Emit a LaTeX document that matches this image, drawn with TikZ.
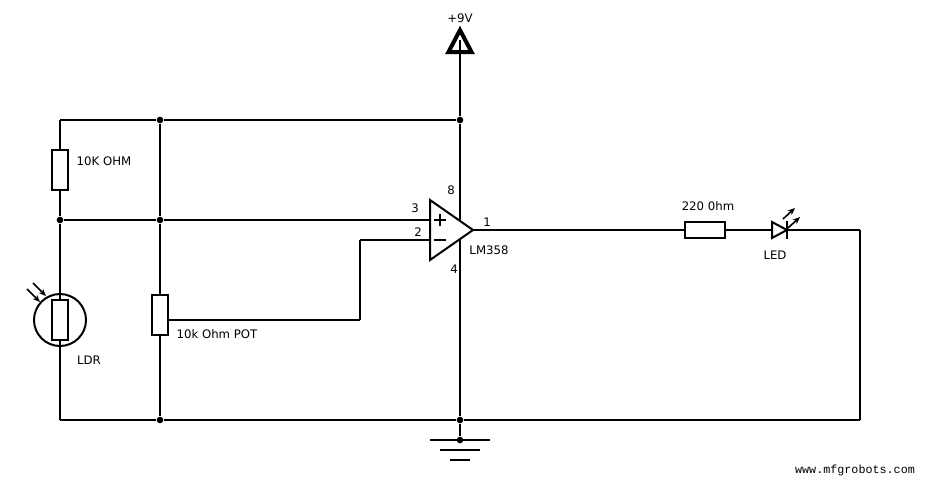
\documentclass[tikz,border=0pt]{standalone}
\usepackage{fontspec}
\setmainfont{DejaVu Sans}
\newfontfamily\webfont[Scale=1]{Liberation Mono}
\usetikzlibrary{backgrounds,arrows.meta}
\pgfdeclarelayer{edgelayer}
\pgfdeclarelayer{nodelayer}
\pgfsetlayers{edgelayer,nodelayer,main}
\tikzstyle{wire}=[-, draw=black, line width=1.5pt]
\tikzstyle{symbol}=[draw=black, fill=white, line width=1.5pt, line join=miter]
\tikzstyle{resv}=[rectangle, fill=white, draw=black, line width=1.5pt, inner sep=0pt, minimum width=12pt, minimum height=30pt]
\tikzstyle{resh}=[rectangle, fill=white, draw=black, line width=1.5pt, inner sep=0pt, minimum width=30pt, minimum height=12pt]
\tikzstyle{junction}=[circle, fill=black, draw=none, inner sep=0pt, minimum size=5pt]
\tikzstyle{lbl}=[inner sep=0pt, font=\fontsize{8.8}{10}\selectfont]
\tikzstyle{ray}=[-{Stealth[length=5.5pt,width=4.5pt]}, draw=black, line width=1.2pt]

\begin{document}
\begin{tikzpicture}[x=0.75pt, y=-0.75pt]
    \useasboundingbox (0, 0) rectangle (926, 480);
    \begin{pgfonlayer}{nodelayer}
        % power and ground
        \coordinate (vcc) at (460, 40);
        \node [style=junction] (top) at (460, 120) {};
        \node [style=junction] (bot) at (460, 420) {};
        \node [style=junction] (gnd) at (460, 440) {};
        \draw [line width=3pt, line join=miter] (460, 30) -- (448.5, 52) -- (471.5, 52) -- cycle;
        % left part
        \coordinate (tl) at (60, 120);
        \coordinate (bl) at (60, 420);
        \node [style=junction] (topb) at (160, 120) {};
        \node [style=junction] (inl) at (60, 220) {};
        \node [style=junction] (inm) at (160, 220) {};
        \node [style=junction] (botb) at (160, 420) {};
        \node [style=resv] (r1) at (60, 170) {};
        \node [style=resv] (pot) at (160, 315) {};
        \draw [style=symbol, fill=none] (60, 320) circle (26);
        \node [style=resv] (ldr) at (60, 320) {};
        \draw [style=ray] (27, 289) -- (40, 302);
        \draw [style=ray] (33, 283) -- (46, 296);
        % op amp
        \coordinate (in3) at (430, 220);
        \coordinate (in2) at (430, 240);
        \coordinate (out) at (473, 230);
        \coordinate (bend2) at (360, 240);
        \coordinate (bend1) at (360, 320);
        \coordinate (wiper) at (168, 320);
        \draw [style=symbol] (430, 200) -- (473, 230) -- (430, 260) -- cycle;
        \draw [style=wire] (434, 220) -- (446, 220);
        \draw [style=wire] (440, 214) -- (440, 226);
        \draw [style=wire] (434, 240) -- (446, 240);
        % output
        \node [style=resh] (r2) at (705, 230) {};
        \coordinate (leda) at (772, 230);
        \coordinate (ledk) at (787, 230);
        \coordinate (tr) at (860, 230);
        \coordinate (br) at (860, 420);
        \draw [style=symbol] (772, 222) -- (787, 230) -- (772, 238) -- cycle;
        \draw [style=wire] (787, 221) -- (787, 239);
        \draw [style=ray] (783, 219) -- (795, 208);
        \draw [style=ray] (788, 228) -- (800, 217);
        % labels
        \node [style=lbl] (l9v) at (460, 18) {+9V};
        \node [style=lbl] (lr1) at (104, 161) {10K OHM};
        \node [style=lbl] (lpot) at (217, 334) {10k Ohm POT};
        \node [style=lbl] (lldr) at (89, 360) {LDR};
        \node [style=lbl] (p8) at (451, 190) {8};
        \node [style=lbl] (p3) at (415, 208) {3};
        \node [style=lbl] (p2) at (418, 232) {2};
        \node [style=lbl] (p1) at (487, 222) {1};
        \node [style=lbl] (p4) at (454, 269) {4};
        \node [style=lbl] (lop) at (489, 250) {LM358};
        \node [style=lbl] (lr2) at (708, 206) {220 0hm};
        \node [style=lbl] (lled) at (775, 255) {LED};
        \node [inner sep=0pt, font=\webfont\fontsize{8.8}{10}\selectfont] (web) at (855, 470) {www.mfgrobots.com};
    \end{pgfonlayer}
    \begin{pgfonlayer}{edgelayer}
        \draw [style=wire] (vcc) to (top);
        \draw [style=wire] (top) to (bot);
        \draw [style=wire] (bot) to (gnd);
        \draw [style=wire] (tl) to (topb);
        \draw [style=wire] (topb) to (top);
        \draw [style=wire] (tl) to (r1);
        \draw [style=wire] (r1) to (inl);
        \draw [style=wire] (inl) to (ldr);
        \draw [style=wire] (ldr) to (bl);
        \draw [style=wire] (topb) to (inm);
        \draw [style=wire] (inm) to (pot);
        \draw [style=wire] (pot) to (botb);
        \draw [style=wire] (inl) to (inm);
        \draw [style=wire] (inm) to (in3);
        \draw [style=wire] (in2) to (bend2);
        \draw [style=wire] (bend2) to (bend1);
        \draw [style=wire] (bend1) to (wiper);
        \draw [style=wire] (out) to (r2);
        \draw [style=wire] (r2) to (leda);
        \draw [style=wire] (ledk) to (tr);
        \draw [style=wire] (tr) to (br);
        \draw [style=wire] (bl) to (botb);
        \draw [style=wire] (botb) to (bot);
        \draw [style=wire] (bot) to (br);
        \draw [style=wire] (430, 440) -- (490, 440);
        \draw [style=wire] (440, 450) -- (480, 450);
        \draw [style=wire] (450, 460) -- (470, 460);
    \end{pgfonlayer}
\end{tikzpicture}
\end{document}
